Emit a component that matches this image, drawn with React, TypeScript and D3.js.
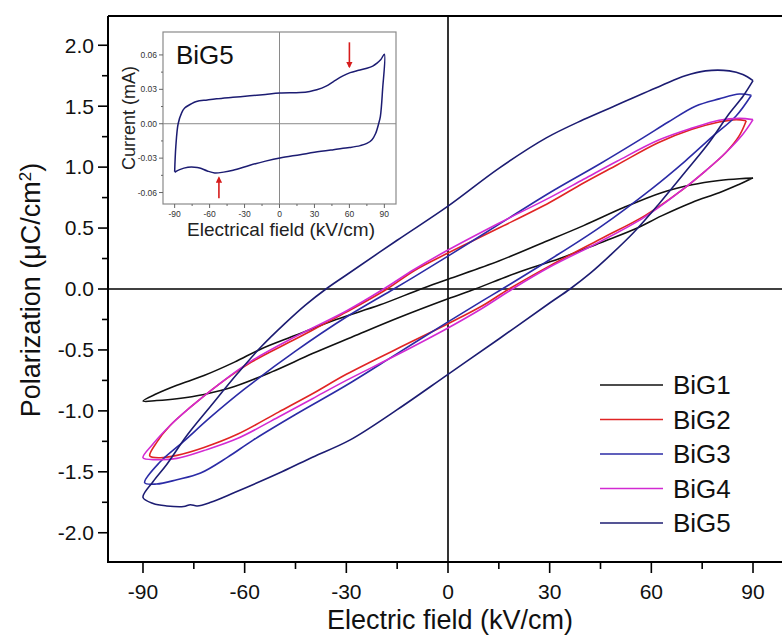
import React from 'react';
import * as d3 from 'd3';

const W = 782;
const H = 637;

// ---------- axis ticks ----------
const xTickValues = [-90, -60, -30, 0, 30, 60, 90];
const xMinorTicks = [-75, -45, -15, 15, 45, 75];
const yTickValues = [-2.0, -1.5, -1.0, -0.5, 0.0, 0.5, 1.0, 1.5, 2.0];
const yMinorTicks = [-1.75, -1.25, -0.75, -0.25, 0.25, 0.75, 1.25, 1.75];

const insetXTicks = [-90, -60, -30, 0, 30, 60, 90];
const insetXMinor = [-75, -45, -15, 15, 45, 75];
const insetYTicks = [-0.06, -0.03, 0.0, 0.03, 0.06];
const insetYMinor = [-0.045, -0.015, 0.015, 0.045];

// ---------- series ----------
const seriesNames = ['BiG1', 'BiG2', 'BiG3', 'BiG4', 'BiG5'];
const seriesColors = ['#111111', '#e02424', '#2b2ba6', '#d22ad2', '#1c1c72'];

// BiG1 (black)
const big1UpperE = [90, 86, 80, 72, 63, 52, 40, 28, 15, 0, -8, -20, -33, -45, -55, -63, -72, -80, -86, -90];
const big1UpperP = [0.91, 0.905, 0.89, 0.855, 0.79, 0.67, 0.52, 0.38, 0.23, 0.08, 0.0, -0.13, -0.25, -0.38, -0.49, -0.6, -0.71, -0.79, -0.86, -0.92];
const big1LowerE = [-90, -86, -80, -72, -63, -52, -40, -28, -15, 0, 8, 20, 33, 45, 55, 63, 72, 80, 86, 90];
const big1LowerP = [-0.92, -0.915, -0.9, -0.865, -0.8, -0.68, -0.53, -0.39, -0.24, -0.08, 0.0, 0.13, 0.25, 0.38, 0.49, 0.6, 0.71, 0.79, 0.86, 0.91];

// BiG2 (red)
const big2UpperE = [88, 85, 80, 72, 62, 50, 40, 30, 15, 0, -10, -18, -30, -45, -58, -68, -76, -82, -86, -88];
const big2UpperP = [1.38, 1.39, 1.37, 1.31, 1.2, 1.02, 0.87, 0.71, 0.5, 0.295, 0.15, 0.0, -0.19, -0.41, -0.6, -0.79, -0.97, -1.12, -1.26, -1.37];
const big2LowerE = [-88, -85, -80, -72, -62, -50, -40, -30, -15, 0, 10, 18, 30, 45, 58, 68, 76, 82, 86, 88];
const big2LowerP = [-1.37, -1.385, -1.365, -1.3, -1.19, -1.01, -0.86, -0.7, -0.49, -0.285, -0.14, 0.0, 0.19, 0.41, 0.6, 0.79, 0.97, 1.12, 1.26, 1.38];

// BiG3 (blue)
const big3UpperE = [89.5, 86, 80, 73, 65, 57.5, 45, 30, 15, 0, -10, -16, -30, -45, -60, -70, -78, -85, -89.5];
const big3UpperP = [1.59, 1.6, 1.56, 1.5, 1.37, 1.24, 1.03, 0.79, 0.53, 0.27, 0.1, 0.0, -0.23, -0.51, -0.82, -1.05, -1.25, -1.42, -1.59];
const big3LowerE = [-89.5, -86, -80, -73, -65, -57.5, -45, -30, -15, 0, 10, 16, 30, 45, 60, 70, 78, 85, 89.5];
const big3LowerP = [-1.59, -1.6, -1.565, -1.51, -1.38, -1.24, -1.03, -0.79, -0.53, -0.27, -0.1, 0.0, 0.24, 0.51, 0.82, 1.05, 1.25, 1.42, 1.59];

// BiG4 (magenta)
const big4UpperE = [90, 86, 80, 72, 62, 50, 40, 30, 15, 0, -10, -19, -30, -45, -58, -68, -76, -82, -87, -90];
const big4UpperP = [1.39, 1.4, 1.385, 1.32, 1.22, 1.05, 0.9, 0.75, 0.54, 0.32, 0.16, 0.0, -0.18, -0.39, -0.59, -0.79, -0.97, -1.12, -1.27, -1.385];
const big4LowerE = [-90, -86, -80, -72, -62, -50, -40, -30, -15, 0, 10, 19, 30, 45, 58, 68, 76, 82, 87, 90];
const big4LowerP = [-1.385, -1.4, -1.39, -1.325, -1.225, -1.05, -0.9, -0.75, -0.54, -0.32, -0.16, 0.0, 0.18, 0.39, 0.59, 0.79, 0.97, 1.12, 1.27, 1.39];

// BiG5 (navy)
const big5UpperE = [90, 87, 83, 76, 70, 63, 49, 40, 29, 15, 0, -15, -30, -36, -42, -48, -55, -62, -70, -77, -83, -87, -90];
const big5UpperP = [1.71, 1.76, 1.79, 1.79, 1.75, 1.67, 1.5, 1.39, 1.24, 0.99, 0.68, 0.4, 0.115, 0.0, -0.13, -0.28, -0.47, -0.69, -0.96, -1.2, -1.44, -1.58, -1.71];
const big5LowerE = [-90, -87, -83, -78, -76, -74, -70, -63, -49, -40, -29, -15, 0, 15, 30, 36, 42, 48, 55, 62, 70, 77, 83, 87, 90];
const big5LowerP = [-1.71, -1.76, -1.78, -1.785, -1.77, -1.78, -1.75, -1.67, -1.5, -1.38, -1.24, -0.99, -0.7, -0.41, -0.115, 0.0, 0.13, 0.28, 0.47, 0.69, 0.96, 1.2, 1.44, 1.58, 1.71];

// ---------- inset (BiG5 current loop) ----------
const insetUpperE = [-90, -89, -87, -84, -81.4, -76, -71.3, -62, -54, -40, -25.4, -12, 0.4, 17.7, 26, 32, 40, 46.3, 54, 60.7, 68, 75, 80, 83.7, 87, 90];
const insetUpperI = [-0.042, -0.02, 0.0, 0.0095, 0.0137, 0.0172, 0.0194, 0.0207, 0.0217, 0.023, 0.0243, 0.0256, 0.0267, 0.0272, 0.0282, 0.0296, 0.0328, 0.0368, 0.0415, 0.0446, 0.0466, 0.0484, 0.0503, 0.0528, 0.056, 0.0606];
const insetLowerE = [90, 88.5, 86.6, 85.1, 82.5, 79.4, 75, 69.3, 60, 46.3, 30, 17.7, 0.4, -12, -25.4, -39.8, -48, -55.6, -62, -68.5, -73, -78.6, -85.7, -90];
const insetLowerI = [0.0606, 0.03, 0.0064, 0.0, -0.0085, -0.0139, -0.0172, -0.0191, -0.0208, -0.0226, -0.0249, -0.027, -0.0298, -0.0326, -0.0362, -0.0406, -0.0422, -0.0429, -0.0412, -0.0386, -0.0379, -0.038, -0.04, -0.0423];

// arrows in inset: x position (field) and start/end current
const arrowFields = [60, -52];
const arrowFrom = [0.071, -0.065];
const arrowTo = [0.0495, -0.047];

type Branch = { e: number[]; p: number[] };
const loops: Branch[][] = [
  [{ e: big1UpperE, p: big1UpperP }, { e: big1LowerE, p: big1LowerP }],
  [{ e: big2UpperE, p: big2UpperP }, { e: big2LowerE, p: big2LowerP }],
  [{ e: big3UpperE, p: big3UpperP }, { e: big3LowerE, p: big3LowerP }],
  [{ e: big4UpperE, p: big4UpperP }, { e: big4LowerE, p: big4LowerP }],
  [{ e: big5UpperE, p: big5UpperP }, { e: big5LowerE, p: big5LowerP }],
];

const FONT = '"Liberation Sans", Arial, Helvetica, sans-serif';

export default function App() {
  const left = 108;
  const top = 16;
  const bottom = 562;
  const right = W;

  const x = d3.scaleLinear().domain([-100, 100]).range([109.1, 786.9]);
  const y = d3.scaleLinear().domain([-2.24, 2.24]).range([562, 16]);

  const line = d3
    .line<[number, number]>()
    .x((d) => x(d[0]))
    .y((d) => y(d[1]))
    .curve(d3.curveCatmullRom.alpha(0.5));

  const loopPath = (br: Branch[]) => {
    const pts: [number, number][] = [];
    br.forEach((b, bi) => {
      b.e.forEach((e, i) => {
        if (bi > 0 && i === 0) return;
        pts.push([e, b.p[i]]);
      });
    });
    return line(pts) || '';
  };

  const ix = d3.scaleLinear().domain([-100, 100]).range([163, 396]);
  const iy = d3.scaleLinear().domain([-0.07, 0.08]).range([204, 32]);
  const iline = d3
    .line<[number, number]>()
    .x((d) => ix(d[0]))
    .y((d) => iy(d[1]))
    .curve(d3.curveCatmullRom.alpha(0.5));
  const insetPts: [number, number][] = [
    ...insetUpperE.map((e, i) => [e, insetUpperI[i]] as [number, number]),
    ...insetLowerE.slice(1).map((e, i) => [e, insetLowerI[i + 1]] as [number, number]),
  ];

  const legendX1 = 600;
  const legendX2 = 663;
  const legendY0 = 385;
  const legendDy = 34.5;

  return (
    <svg
      width={W}
      height={H}
      style={{ position: 'absolute', left: 0, top: 0, background: '#fff' }}
      fontFamily={FONT}
    >
      <defs>
        <clipPath id="plotClip">
          <rect x={left} y={top} width={right - left} height={bottom - top} />
        </clipPath>
        <clipPath id="insetClip">
          <rect x={163} y={32} width={233} height={172} />
        </clipPath>
        <marker id="arrowHead" viewBox="0 0 10 10" refX="8" refY="5" markerWidth="4" markerHeight="4" orient="auto">
          <path d="M0,0 L10,5 L0,10 z" fill="#d61c1c" />
        </marker>
      </defs>
      <rect x={0} y={0} width={W} height={H} fill="#fff" />

      {/* zero lines */}
      <line x1={left} x2={right} y1={y(0)} y2={y(0)} stroke="#000" strokeWidth={1.6} />
      <line x1={x(0)} x2={x(0)} y1={top} y2={bottom} stroke="#000" strokeWidth={1.6} />

      {/* loops */}
      <g clipPath="url(#plotClip)">
        {loops.map((br, i) => (
          <path key={seriesNames[i]} d={loopPath(br)} fill="none" stroke={seriesColors[i]} strokeWidth={1.6} />
        ))}
      </g>

      {/* axes frame */}
      <line x1={left} x2={right} y1={top} y2={top} stroke="#000" strokeWidth={2} />
      <line x1={left} x2={left} y1={top} y2={bottom + 1} stroke="#000" strokeWidth={2} />
      <line x1={left - 1} x2={right} y1={bottom} y2={bottom} stroke="#000" strokeWidth={2} />

      {/* y ticks */}
      {yTickValues.map((t) => (
        <g key={'yt' + t}>
          <line x1={left - 10} x2={left} y1={y(t)} y2={y(t)} stroke="#000" strokeWidth={1.6} />
          <text x={left - 14} y={y(t)} dy="0.35em" textAnchor="end" fontSize={21} fill="#111">
            {t.toFixed(1)}
          </text>
        </g>
      ))}
      {yMinorTicks.map((t) => (
        <line key={'ym' + t} x1={left - 6} x2={left} y1={y(t)} y2={y(t)} stroke="#000" strokeWidth={1.6} />
      ))}

      {/* x ticks */}
      {xTickValues.map((t) => (
        <g key={'xt' + t}>
          <line x1={x(t)} x2={x(t)} y1={bottom} y2={bottom + 11} stroke="#000" strokeWidth={1.6} />
          <text x={x(t)} y={599} textAnchor="middle" fontSize={21} fill="#111">
            {t}
          </text>
        </g>
      ))}
      {xMinorTicks.map((t) => (
        <line key={'xm' + t} x1={x(t)} x2={x(t)} y1={bottom} y2={bottom + 7} stroke="#000" strokeWidth={1.6} />
      ))}

      {/* axis titles */}
      <text x={450} y={629} textAnchor="middle" fontSize={27} fill="#111">
        Electric field (kV/cm)
      </text>
      <text transform="translate(40,290) rotate(-90)" textAnchor="middle" fontSize={27} fill="#111">
        Polarization (μC/cm<tspan baselineShift="super" fontSize={17}>2</tspan>)
      </text>

      {/* legend */}
      {seriesNames.map((n, i) => (
        <g key={'lg' + n}>
          <line
            x1={legendX1}
            x2={legendX2}
            y1={legendY0 + i * legendDy}
            y2={legendY0 + i * legendDy}
            stroke={seriesColors[i]}
            strokeWidth={1.6}
          />
          <text x={673} y={legendY0 + i * legendDy} dy="0.35em" fontSize={26} fill="#111">
            {n}
          </text>
        </g>
      ))}

      {/* inset */}
      <g>
        <rect x={163} y={32} width={233} height={172} fill="#fff" stroke="#8a8a8a" strokeWidth={1.2} />
        <line x1={163} x2={396} y1={iy(0)} y2={iy(0)} stroke="#8a8a8a" strokeWidth={1} />
        <line x1={ix(0)} x2={ix(0)} y1={32} y2={204} stroke="#8a8a8a" strokeWidth={1} />
        <path d={iline(insetPts) || ''} fill="none" stroke="#1c1c72" strokeWidth={1.5} clipPath="url(#insetClip)" />
        {insetYTicks.map((t) => (
          <g key={'iyt' + t}>
            <line x1={159} x2={163} y1={iy(t)} y2={iy(t)} stroke="#666" strokeWidth={1} />
            <text x={157} y={iy(t)} dy="0.35em" textAnchor="end" fontSize={8.5} fill="#333">
              {t.toFixed(2)}
            </text>
          </g>
        ))}
        {insetYMinor.map((t) => (
          <line key={'iym' + t} x1={161} x2={163} y1={iy(t)} y2={iy(t)} stroke="#666" strokeWidth={1} />
        ))}
        {insetXTicks.map((t) => (
          <g key={'ixt' + t}>
            <line x1={ix(t)} x2={ix(t)} y1={204} y2={208} stroke="#666" strokeWidth={1} />
            <text x={ix(t)} y={217} textAnchor="middle" fontSize={8.5} fill="#333">
              {t}
            </text>
          </g>
        ))}
        {insetXMinor.map((t) => (
          <line key={'ixm' + t} x1={ix(t)} x2={ix(t)} y1={204} y2={206} stroke="#666" strokeWidth={1} />
        ))}
        <text x={281} y={236} textAnchor="middle" fontSize={19} fill="#222">
          Electrical field (kV/cm)
        </text>
        <text transform="translate(135,118) rotate(-90)" textAnchor="middle" fontSize={18} fill="#222">
          Current (mA)
        </text>
        <text x={176} y={64} fontSize={26} fill="#111">
          BiG5
        </text>
        {arrowFields.map((f, i) => (
          <line
            key={'arr' + i}
            x1={ix(f)}
            x2={ix(f)}
            y1={iy(arrowFrom[i])}
            y2={iy(arrowTo[i])}
            stroke="#d61c1c"
            strokeWidth={1.6}
            markerEnd="url(#arrowHead)"
          />
        ))}
      </g>
    </svg>
  );
}
